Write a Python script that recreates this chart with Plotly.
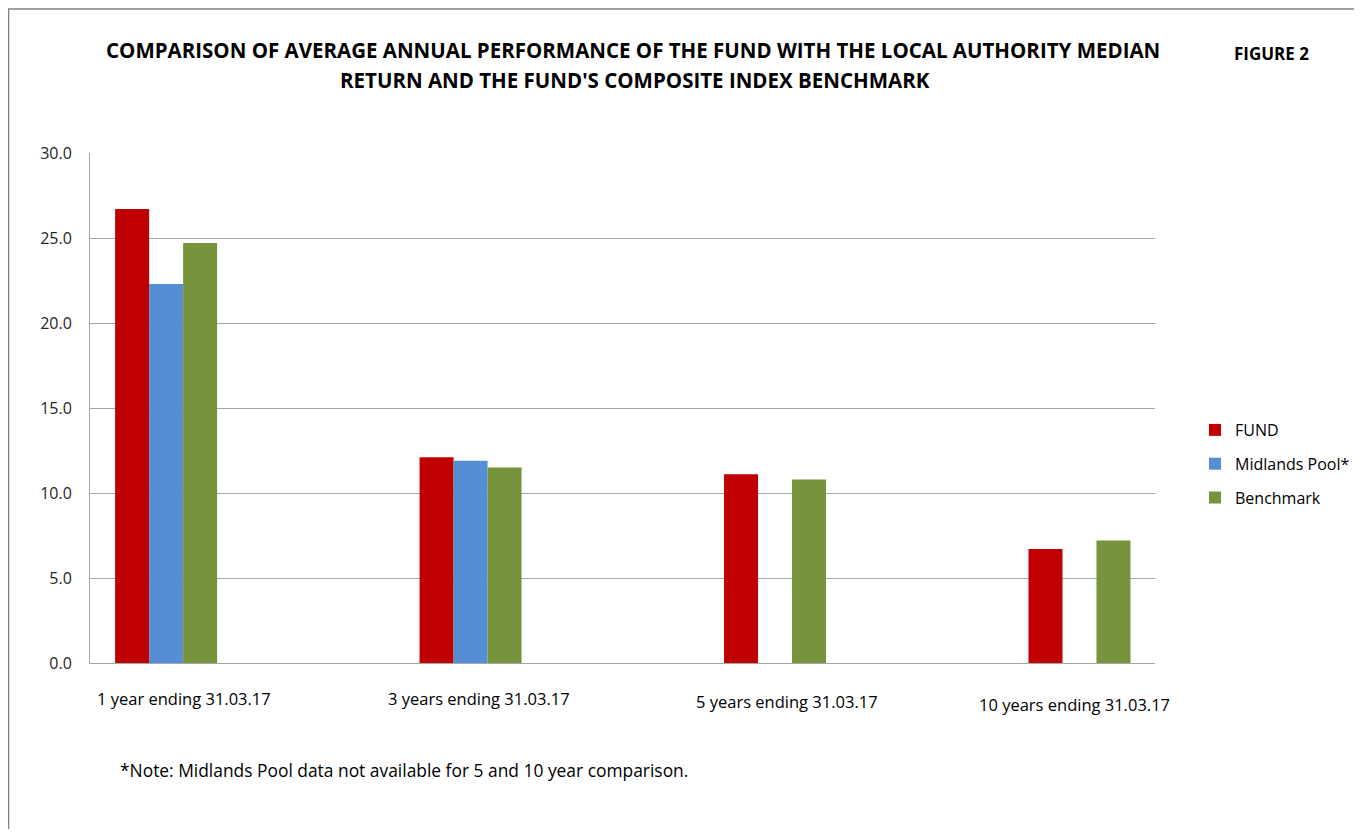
import plotly.graph_objects as go

categories = ["1 year ending 31.03.17", "3 years ending 31.03.17",
              "5 years ending 31.03.17", "10 years ending 31.03.17"]
fund = [26.7, 12.1, 11.1, 6.7]
midlands = [22.3, 11.9, None, None]
benchmark = [24.7, 11.5, 10.8, 7.2]
series_names = ["FUND", "Midlands Pool*", "Benchmark"]
colors = ["#C00000", "#558ED5", "#77933C"]
y_ticks = [0, 5, 10, 15, 20, 25, 30]

FONT = "Open Sans, sans-serif"

# figure geometry (page is offset by the 8px body margin)
W, H = 1346, 821
L, R, T, B = 82, 199, 145, 166
pw = W - L - R
ph = H - T - B


def px(xf):  # figure x pixel -> paper x
    return (xf - L) / pw


def py(yf):  # figure y pixel (from top) -> paper y
    return (H - B - yf) / ph


xpos = list(range(len(categories)))
fig = go.Figure()
for name, vals, col in zip(series_names, [fund, midlands, benchmark], colors):
    fig.add_trace(go.Bar(
        x=xpos, y=vals, name=name, legendgroup=name,
        marker=dict(color=col, line=dict(width=0)),
    ))

# category labels (hand-placed in the original at slightly different heights)
label_shift = [(18, -35), (8, -35), (12, -38), (-5, -41)]
for xi, lab, (dx, dy) in zip(xpos, categories, label_shift):
    fig.add_annotation(x=xi, y=0, xref="x", yref="y", text=lab, showarrow=False,
                       xshift=dx, yshift=dy, font=dict(size=16.5, color="#000", family=FONT))

fig.add_annotation(x=px(633 - 8), y=py(50 - 8), xref="paper", yref="paper",
                   xanchor="center", yanchor="middle", showarrow=False,
                   text="<b>COMPARISON OF AVERAGE ANNUAL PERFORMANCE OF THE FUND WITH THE LOCAL AUTHORITY MEDIAN</b>",
                   font=dict(size=20.5, color="#000", family=FONT))
fig.add_annotation(x=px(635 - 8), y=py(80 - 8), xref="paper", yref="paper",
                   xanchor="center", yanchor="middle", showarrow=False,
                   text="<b>RETURN AND THE FUND'S COMPOSITE INDEX BENCHMARK</b>",
                   font=dict(size=20.5, color="#000", family=FONT))
fig.add_annotation(x=px(1232 - 8), y=py(53 - 8), xref="paper", yref="paper",
                   text="<b>FIGURE 2</b>", showarrow=False, xanchor="left", yanchor="middle",
                   font=dict(size=17, color="#000", family=FONT))
fig.add_annotation(x=px(118 - 8), y=py(770 - 8), xref="paper", yref="paper",
                   text="*Note: Midlands Pool data not available for 5 and 10 year comparison.",
                   showarrow=False, xanchor="left", yanchor="middle",
                   font=dict(size=17.4, color="#000", family=FONT))

fig.update_layout(
    width=W, height=H,
    margin=dict(l=L, r=R, t=T, b=B),
    paper_bgcolor="white", plot_bgcolor="white",
    barmode="group", bargap=0.665, bargroupgap=0,
    showlegend=True,
    legend=dict(xref="container", yref="container",
                x=(1195 - 8) / W, y=1 - (464 - 8) / H, xanchor="left", yanchor="middle",
                font=dict(size=16, color="#000", family=FONT),
                tracegroupgap=10, traceorder="grouped", itemwidth=30,
                bgcolor="rgba(0,0,0,0)"),
    xaxis=dict(range=[-0.25, 3.248], showticklabels=False, showgrid=False,
               showline=True, linecolor="#A6A6A6", linewidth=1, zeroline=False, ticks=""),
    yaxis=dict(range=[0, 30], tickvals=y_ticks, tickformat=".1f", showgrid=True,
               gridcolor="#A6A6A6", gridwidth=1, showline=True, linecolor="#A6A6A6",
               zeroline=False, ticks="", ticklabelstandoff=14,
               tickfont=dict(size=16, color="#262626", family=FONT)),
)

# frame lines of the original picture
fig.add_shape(type="line", xref="paper", yref="paper",
              x0=px(0), x1=px(W), y0=py(1), y1=py(1),
              line=dict(color="#808080", width=1.5))
fig.add_shape(type="line", xref="paper", yref="paper",
              x0=px(0.5), x1=px(0.5), y0=py(1), y1=py(H),
              line=dict(color="#808080", width=1.5))

fig.write_html("out.html")
